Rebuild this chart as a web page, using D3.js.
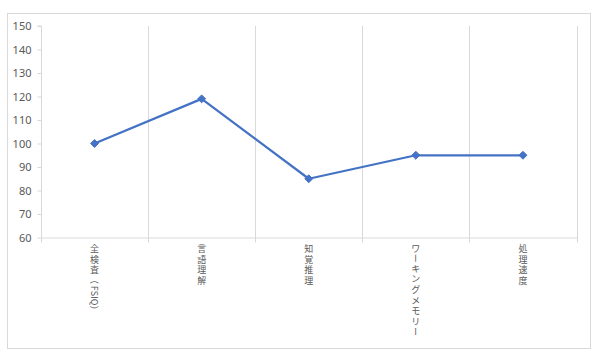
<!DOCTYPE html>
<html><head><meta charset="utf-8">
<script src="https://cdn.jsdelivr.net/npm/d3@7"></script>
<style>body{margin:0;background:#fff}</style>
</head><body>
<svg id="c" width="600" height="357"></svg>
<script>
const categories = ["全検査（FSIQ）","言語理解","知覚推理","ワーキングメモリー","処理速度"];
const values = [100,119,85,95,95];
const yTicks = [60,70,80,90,100,110,120,130,140,150];

const svg = d3.select("#c");
svg.append("rect").attr("x",7.5).attr("y",13.5).attr("width",583).attr("height",335)
  .attr("fill","#fff").attr("stroke","#d9d9d9");

const pL=41, pR=576.5, pT=26, pB=237.5;
const x = d3.scaleBand().domain(categories).range([pL,pR]);
const y = d3.scaleLinear().domain([60,150]).range([pB,pT]);

// vertical gridlines at category boundaries
const bounds = categories.map(c=>x(c)+x.bandwidth());
svg.append("g").selectAll("line").data(bounds).join("line")
  .attr("x1",d=>Math.round(d)+0.5).attr("x2",d=>Math.round(d)+0.5)
  .attr("y1",pT).attr("y2",pB+5).attr("stroke","#d9d9d9");

// y axis
const ya = svg.append("g").attr("transform",`translate(${pL+0.5},0)`)
  .call(d3.axisLeft(y).tickValues(yTicks).tickSize(4).tickPadding(6));
ya.select(".domain").attr("stroke","#d9d9d9").attr("d",`M-4,${pT}H0V${pB}`);
ya.selectAll(".tick line").attr("stroke","#d9d9d9");
ya.selectAll("text").attr("fill","#595959").style("font-family","'Noto Sans',sans-serif").style("font-size","11px");

// x axis line
svg.append("line").attr("x1",pL).attr("x2",pR+0.5).attr("y1",pB+0.5).attr("y2",pB+0.5).attr("stroke","#d9d9d9");
svg.append("line").attr("x1",pL+0.5).attr("x2",pL+0.5).attr("y1",pB).attr("y2",pB+5).attr("stroke","#d9d9d9");

// x labels: vertical stacking in one text element per label
const fs = 9, adv = 10.7, startY = 243;
const rotChars = "（）ー";
const font = "'Noto Sans CJK JP',sans-serif";
const meas = svg.append("text").style("font-family",font).style("font-size",fs+"px");
function w(ch){ meas.text(ch); return meas.node().getComputedTextLength(); }
categories.forEach(cat=>{
  const cx = x(cat)+x.bandwidth()/2;
  const xs=[], ys=[], rs=[];
  let cur = startY;
  for (const ch of cat) {
    const rot = rotChars.includes(ch) || ch.charCodeAt(0) < 128;
    if (rot) {
      xs.push(cx - 3.4); ys.push(cur); rs.push(90);
      cur += (ch==="（"||ch==="）") ? adv : w(ch);
    } else {
      xs.push(cx - fs/2); ys.push(cur + 8.8); rs.push(0);
      cur += adv;
    }
  }
  svg.append("text").attr("fill","#595959")
    .style("font-family",font).style("font-size",fs+"px")
    .attr("x",xs.map(v=>v.toFixed(2)).join(" "))
    .attr("y",ys.map(v=>v.toFixed(2)).join(" "))
    .attr("rotate",rs.join(" "))
    .text(cat);
});
meas.remove();

// line
const pts = categories.map((c,i)=>[x(c)+x.bandwidth()/2, y(values[i])]);
svg.append("path").datum(pts).attr("d",d3.line()).attr("fill","none")
  .attr("stroke","#4472C4").attr("stroke-width",2.25).attr("stroke-linejoin","round");
svg.append("g").selectAll("path").data(pts).join("path")
  .attr("transform",d=>`translate(${d[0]},${d[1]})`)
  .attr("d",d3.symbol(d3.symbolDiamond2, 40)).attr("fill","#4472C4").attr("stroke","#4472C4");
</script>
</body></html>
